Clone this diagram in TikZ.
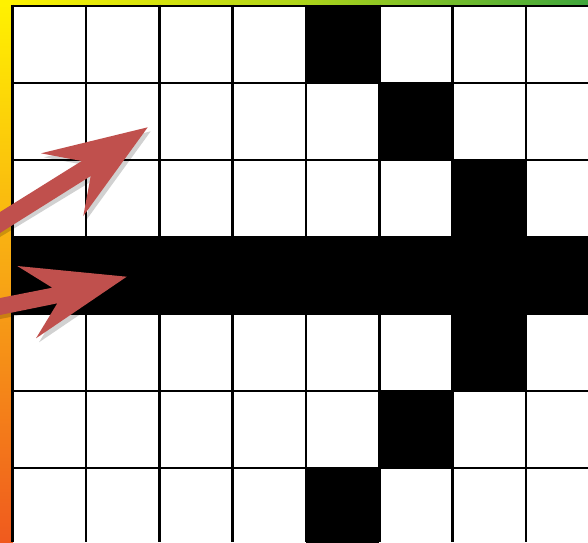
\documentclass[tikz,border=0pt]{standalone}
\usetikzlibrary{calc}
\definecolor{arrowred}{HTML}{C0504D}
\definecolor{gyellow}{HTML}{FFF200}
\definecolor{gamber}{HTML}{F8A814}
\definecolor{gorange}{HTML}{F05A1E}
\definecolor{glime}{HTML}{B0D519}
\definecolor{ggreen}{HTML}{3FA63C}
\tikzset{
  gridline/.style={line width=2.6pt, black},
  bigarrow/.style={fill=arrowred, draw=none},
  arrowshadow/.style={fill=black, fill opacity=0.18, draw=none}
}
\begin{document}
\begin{tikzpicture}[x=1pt,y=-1pt]
\useasboundingbox (0,0) rectangle (588,542);
% gradient strips
\shade[top color=gyellow, bottom color=gorange, middle color=gamber] (0,0) rectangle (13,542);
\shade[left color=gyellow, right color=ggreen, middle color=glime] (0,0) rectangle (588,6.5);
\fill[gyellow] (0,0) rectangle (13,6.5);
% grid background
\fill[white] (12.7,6) rectangle (588,542);
% black cells
\def\cw{73.33}
\def\ch{77}
\foreach \c/\r in {4/0,5/1,6/2,6/4,5/5,4/6}{
  \fill[black] ({12.7+\c*\cw},{6+\r*\ch}) rectangle ({12.7+(\c+1)*\cw},{6+(\r+1)*\ch});
}
\fill[black] (12.7,{6+3*\ch}) rectangle (588,{6+4*\ch});
% grid lines
\foreach \c in {0,...,7}{
  \draw[gridline] ({12.7+\c*\cw},4.7) -- ({12.7+\c*\cw},542);
}
\foreach \r in {0,...,6}{
  \draw[gridline] (11.4,{6+\r*\ch}) -- (588,{6+\r*\ch});
}
% arrow 1
\begin{scope}
\clip (0,0) rectangle (588,542);
\fill[arrowshadow] (0,216) -- (84.7,165) -- (44,157.3) -- (150.7,131.3) -- (86.3,220) -- (93.7,180) -- (0,237) -- cycle;
\fill[bigarrow] (0,212) -- (81.7,161) -- (41,153.3) -- (147.7,127.3) -- (83.3,216) -- (90.7,176) -- (0,233) -- cycle;
% arrow 2
\fill[arrowshadow] (0,302) -- (55.3,291.7) -- (20.3,270) -- (129.7,280.7) -- (39,342.3) -- (60.3,307.3) -- (0,319) -- cycle;
\fill[bigarrow] (0,298) -- (52.3,287.7) -- (17.3,266) -- (126.7,276.7) -- (36,338.3) -- (57.3,303.3) -- (0,315) -- cycle;
\end{scope}
\end{tikzpicture}
\end{document}
